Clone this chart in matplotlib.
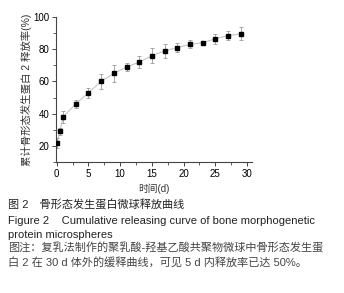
import matplotlib

matplotlib.use("Agg")
import matplotlib.pyplot as plt
from matplotlib.ticker import MultipleLocator

plt.rcParams["font.family"] = ["Liberation Sans", "Noto Sans CJK SC", "DejaVu Sans"]

# 释放时间 (d) 与累计释放率 (%)
days = [0.1, 0.5, 1, 3, 5, 7, 9, 11, 13, 15, 17, 19, 21, 23, 25, 27, 29]
release = [22, 29, 38, 46, 53, 60, 65, 69, 72, 76, 79, 81, 83, 84, 86.5, 88.5, 89.5]
release_sd = [3, 2, 3.5, 2.5, 3, 4.5, 5.5, 2.5, 3.5, 4.5, 4.5, 3, 2.5, 1, 3, 2.5, 4]

xlabel = "时间(d)"
ylabel = "累计骨形态发生蛋白 2 释放率(%)"
caption_cn = "图 2　骨形态发生蛋白微球释放曲线"
caption_en = ["Figure 2    Cumulative releasing curve of bone morphogenetic",
              "protein microspheres"]
note = ["图注：复乳法制作的聚乳酸-羟基乙酸共聚物微球中骨形态发生蛋",
        "白 2 在 30 d 体外的缓释曲线，可见 5 d 内释放率已达 50%。"]

fig = plt.figure(figsize=(3.44, 2.93), dpi=100)
ax = fig.add_axes([0.163, 0.447, 0.57, 0.495])

ax.plot(days, release, color="#c4c4c4", linewidth=0.8, zorder=1)
ax.errorbar(days, release, yerr=release_sd, fmt="none", ecolor="#9a9a9a",
            elinewidth=0.6, capsize=1.5, capthick=0.6, zorder=2)
ax.plot(days, release, "s", color="black", markersize=2.8, zorder=3)

ax.set_xlim(-0.1, 30.8)
ax.set_ylim(10, 100)
ax.xaxis.set_major_locator(MultipleLocator(5))
ax.xaxis.set_minor_locator(MultipleLocator(2.5))
ax.yaxis.set_major_locator(MultipleLocator(20))
ax.yaxis.set_minor_locator(MultipleLocator(10))
ax.set_yticks([20, 40, 60, 80, 100])

for side in ("top", "right"):
    ax.spines[side].set_visible(False)
for side in ("left", "bottom"):
    ax.spines[side].set_color("#444444")
    ax.spines[side].set_linewidth(0.8)
ax.tick_params(which="major", length=3, width=0.7, labelsize=7, color="#444444", pad=2)
ax.tick_params(which="minor", length=2, width=0.6, color="#444444")

ax.set_xlabel(xlabel, fontsize=7, labelpad=3, color="#333333")
ax.set_ylabel(ylabel, fontsize=7.5, labelpad=1, color="#333333")

fig.text(0.023, 1 - 205 / 293, caption_cn, fontsize=8, va="center", color="#222222")
fig.text(0.023, 1 - 221 / 293, caption_en[0], fontsize=8, va="center", color="#222222")
fig.text(0.023, 1 - 235 / 293, caption_en[1], fontsize=8, va="center", color="#222222")
fig.text(0.023, 1 - 248 / 293, note[0], fontsize=8, va="center", color="#444444")
fig.text(0.023, 1 - 262 / 293, note[1], fontsize=8, va="center", color="#444444")

fig.savefig("out.png", dpi=100)
